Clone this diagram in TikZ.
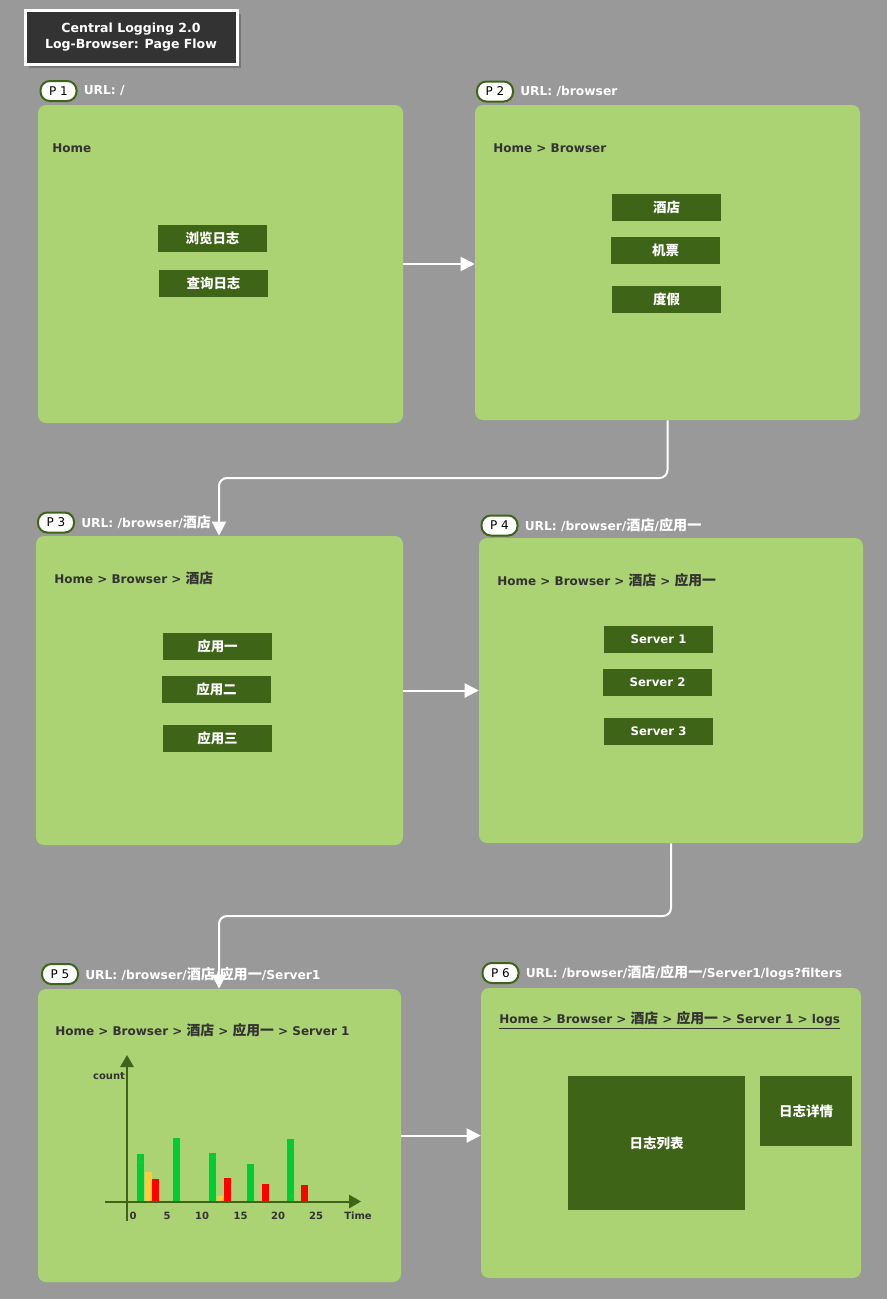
\documentclass[tikz,border=0pt]{standalone}
\usepackage{fontspec}
\setmainfont{DejaVu Sans}
\newfontfamily\cjk[Scale=1.15]{Noto Sans CJK SC}
\newcommand{\zh}[1]{{\cjk #1}}
\usetikzlibrary{arrows.meta,positioning,fit}
\definecolor{bggray}{HTML}{999999}
\definecolor{shadowgray}{HTML}{777777}
\definecolor{pagegreen}{HTML}{ABD373}
\definecolor{btngreen}{HTML}{3D6417}
\definecolor{darktext}{HTML}{333333}
\definecolor{bargreen}{HTML}{00CC33}
\definecolor{baryellow}{HTML}{FFCC33}
\definecolor{barred}{HTML}{FF0000}

\begin{document}
\begin{tikzpicture}[x=0.75pt,y=-0.75pt,
  page/.style={fill=pagegreen, rounded corners=6pt, inner sep=0pt},
  tag/.style={draw=btngreen, line width=1.5pt, fill=white, rounded corners=7pt, minimum width=27pt, minimum height=15pt, inner sep=0pt, text=black, font=\fontsize{9}{10}\selectfont},
  url/.style={text=white, font=\bfseries\fontsize{9.2}{11}\selectfont, inner sep=0pt},
  crumb/.style={anchor=west, text=darktext, font=\bfseries\fontsize{9}{11}\selectfont, inner sep=0pt},
  btn/.style={fill=btngreen, text=white, font=\bfseries\fontsize{8.8}{10}\selectfont, minimum width=81.75pt, minimum height=20.25pt, inner sep=0pt},
  box/.style={fill=btngreen, inner sep=0pt},
  boxtext/.style={text=white, font=\bfseries\fontsize{8.8}{10}\selectfont, inner sep=0pt},
  flow/.style={draw=white, line width=1.5pt, -{Triangle[length=10.5pt,width=10.5pt]}, rounded corners=6pt},
  axis/.style={draw=btngreen, line width=1.5pt, -{Triangle[length=9pt,width=10pt]}},
  tick/.style={text=darktext, font=\bfseries\fontsize{7.5}{9}\selectfont, inner sep=0pt}]

\fill[bggray] (0,0) rectangle (887,1299);
\useasboundingbox (0,0) rectangle (887,1299);

% title
\fill[shadowgray] (29,14) rectangle (241,68);
\node[fit={(25,10) (237,64)}, fill=darktext, draw=white, line width=2.25pt, inner sep=0pt] (title) {};
\node[text=white, align=center, font=\bfseries\fontsize{9.4}{12}\selectfont] (titletext) at (title.center) {Central Logging 2.0\\Log-Browser: Page Flow};

% pages
\node[page, fit={(38,105) (403,423)}] (p1) {};
\node[page, fit={(475,105) (860,420)}] (p2) {};
\node[page, fit={(36,536) (403,845)}] (p3) {};
\node[page, fit={(479,538) (863,843)}] (p4) {};
\node[page, fit={(38,989) (401,1282)}] (p5) {};
\node[page, fit={(481,988) (861,1278)}] (p6) {};

\node[tag] (tag1) at (58.5,91) {P 1};
\node[url, right=4.5pt of tag1] (url1) {URL: /};
\node[tag] (tag2) at (495,91.5) {P 2};
\node[url, right=4.5pt of tag2] (url2) {URL: /browser};
\node[tag] (tag3) at (56,522.5) {P 3};
\node[url, right=4.5pt of tag3] (url3) {URL: /browser/\zh{酒店}};
\node[tag] (tag4) at (499.5,525.5) {P 4};
\node[url, right=4.5pt of tag4] (url4) {URL: /browser/\zh{酒店}/\zh{应用一}};
\node[tag] (tag5) at (60,974) {P 5};
\node[url, right=4.5pt of tag5] (url5) {URL: /browser/\zh{酒店}/\zh{应用一}/Server1};
\node[tag] (tag6) at (500.5,973) {P 6};
\node[url, right=4.5pt of tag6] (url6) {URL: /browser/\zh{酒店}/\zh{应用一}/Server1/logs?filters};

\node[crumb] (crumb1) at (52,148) {Home};
\node[crumb] (crumb2) at (493,148) {Home > Browser};
\node[crumb] (crumb3) at (54,578) {Home > Browser > \zh{酒店}};
\node[crumb] (crumb4) at (497,580) {Home > Browser > \zh{酒店} > \zh{应用一}};
\node[crumb] (crumb5) at (55,1030) {Home > Browser > \zh{酒店} > \zh{应用一} > Server 1};
\node[crumb] (crumb6) at (499,1020) {\underline{Home > Browser > \zh{酒店} > \zh{应用一} > Server 1 > logs}};

% buttons
\node[btn] (browse) at (212.5,238.5) {\zh{浏览日志}};
\node[btn] (search) at (213.5,283.5) {\zh{查询日志}};
\node[btn] (hotel) at (666.5,207.5) {\zh{酒店}};
\node[btn] (flight) at (665.5,250.5) {\zh{机票}};
\node[btn] (holiday) at (666.5,299.5) {\zh{度假}};
\node[btn] (app1) at (217.5,646.5) {\zh{应用一}};
\node[btn] (app2) at (216.5,689.5) {\zh{应用二}};
\node[btn] (app3) at (217.5,738.5) {\zh{应用三}};
\node[btn] (server1) at (658.5,639.5) {Server 1};
\node[btn] (server2) at (657.5,682.5) {Server 2};
\node[btn] (server3) at (658.5,731.5) {Server 3};

\node[box, fit={(568,1076) (745,1210)}] (loglist) {};
\node[boxtext] (loglisttext) at (loglist.center) {\zh{日志列表}};
\node[box, fit={(760,1076) (852,1146)}] (logdetail) {};
\node[boxtext] (logdetailtext) at (logdetail.center) {\zh{日志详情}};

% chart
\fill[bargreen] (136.7,1154) rectangle (144,1201);
\fill[baryellow] (145,1172) rectangle (152,1202);
\fill[barred] (152,1179) rectangle (159,1201);
\fill[bargreen] (172.7,1138) rectangle (180,1201);
\fill[bargreen] (209,1153) rectangle (216,1201);
\fill[baryellow] (216.7,1196) rectangle (224,1201);
\fill[barred] (224,1178) rectangle (231,1201);
\fill[bargreen] (247,1164) rectangle (254,1201);
\fill[barred] (262,1184) rectangle (269,1201);
\fill[bargreen] (287,1139) rectangle (294,1201);
\fill[barred] (301,1185) rectangle (308,1201);
\draw[axis] (127,1221) -- (127,1055);
\draw[axis] (105,1201.5) -- (361,1201.5);
\node[tick] (count) at (109,1076) {count};
\node[tick] (time) at (358,1216) {Time};
\node[tick] (tk0) at (133,1216) {0};
\node[tick] (tk5) at (167,1216) {5};
\node[tick] (tk10) at (202,1216) {10};
\node[tick] (tk15) at (240.5,1216) {15};
\node[tick] (tk20) at (278,1216) {20};
\node[tick] (tk25) at (316,1216) {25};

% flow
\coordinate (bendA) at (219,478);
\coordinate (bendB) at (219,916);
\draw[flow] (p1.east) -- (p1.east -| p2.west);
\draw[flow] (p2.south) |- (bendA) -- (bendA |- p3.north);
\draw[flow] (p3.east) -- (p3.east -| p4.west);
\draw[flow] (p4.south) |- (bendB) -- (bendB |- p5.north);
\draw[flow] (p5.east) -- (p5.east -| p6.west);
\end{tikzpicture}
\end{document}
